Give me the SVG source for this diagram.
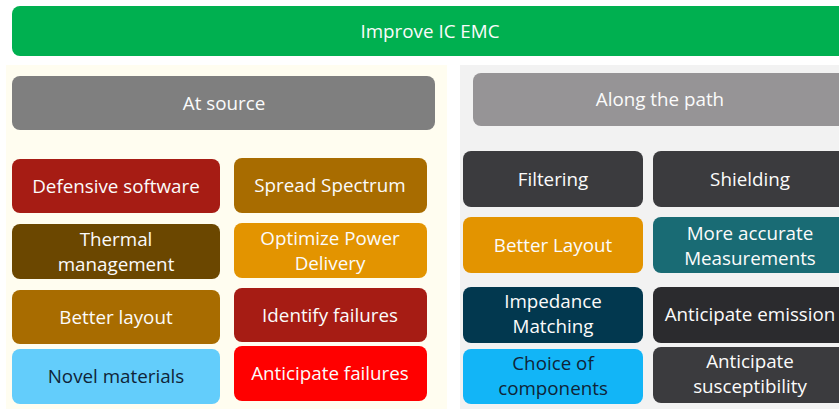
<svg xmlns="http://www.w3.org/2000/svg" width="839" height="409" viewBox="0 0 839 409">
<style>
text{font-family:"Open Sans","Noto Sans",sans-serif;font-size:18.8px;text-anchor:middle;fill:#fbfbfb}
.dk{fill:#0f2438}
</style>
<rect width="839" height="409" fill="#ffffff"/>
<rect x="6" y="65" width="441" height="344" fill="#fffdf0"/>
<rect x="460" y="65" width="379" height="344" fill="#f2f2f2"/>
<g id="root"><rect x="12" y="6" width="836" height="50" rx="8" fill="#00b050"/><text x="430" y="38">Improve IC EMC</text></g>
<g id="at-source"><rect x="12" y="76" width="423" height="54" rx="8" fill="#7f7f7f"/><text x="224" y="110">At source</text></g>
<g id="along-path"><rect x="473" y="73" width="374" height="53" rx="8" fill="#969496"/><text x="660" y="106">Along the path</text></g>
<g id="connectors"></g>
<g id="defensive-software"><rect x="12" y="159" width="208" height="54" rx="8" fill="#a61c14"/><text x="116" y="193">Defensive software</text></g>
<g id="spread-spectrum"><rect x="234" y="158" width="193" height="55" rx="8" fill="#a86c00"/><text x="330" y="192">Spread Spectrum</text></g>
<g id="thermal-management"><rect x="12" y="224" width="208" height="55" rx="8" fill="#6b4700"/><text x="116" y="246">Thermal</text><text x="116" y="271">management</text></g>
<g id="optimize-power"><rect x="234" y="223" width="193" height="55" rx="8" fill="#e39400"/><text x="330" y="245">Optimize Power</text><text x="330" y="270">Delivery</text></g>
<g id="better-layout-src"><rect x="12" y="290" width="208" height="54" rx="8" fill="#a86c00"/><text x="116" y="324">Better layout</text></g>
<g id="identify-failures"><rect x="234" y="288" width="193" height="54" rx="8" fill="#a61c14"/><text x="330" y="322">Identify failures</text></g>
<g id="novel-materials"><rect x="12" y="349" width="208" height="55" rx="8" fill="#63cdfb"/><text class="dk" x="116" y="383">Novel materials</text></g>
<g id="anticipate-failures"><rect x="234" y="346" width="193" height="55" rx="8" fill="#ff0000"/><text x="330" y="380">Anticipate failures</text></g>
<g id="filtering"><rect x="463" y="151" width="180" height="56" rx="8" fill="#3b3b3e"/><text x="553" y="186">Filtering</text></g>
<g id="shielding"><rect x="653" y="151" width="194" height="56" rx="8" fill="#3b3b3e"/><text x="750" y="186">Shielding</text></g>
<g id="better-layout-path"><rect x="463" y="217" width="180" height="56" rx="8" fill="#e39400"/><text x="553" y="252">Better Layout</text></g>
<g id="more-accurate"><rect x="653" y="217" width="194" height="56" rx="8" fill="#196b74"/><text x="750" y="240">More accurate</text><text x="750" y="265">Measurements</text></g>
<g id="impedance-matching"><rect x="463" y="287" width="180" height="56" rx="8" fill="#02384f"/><text x="553" y="308">Impedance</text><text x="553" y="333">Matching</text></g>
<g id="anticipate-emission"><rect x="653" y="287" width="194" height="56" rx="8" fill="#2b2b2e"/><text x="750" y="321">Anticipate emission</text></g>
<g id="choice-components"><rect x="463" y="349" width="180" height="55" rx="8" fill="#12b5f7"/><text class="dk" x="553" y="370">Choice of</text><text class="dk" x="553" y="395">components</text></g>
<g id="anticipate-susceptibility"><rect x="653" y="347" width="194" height="56" rx="8" fill="#3b3b3e"/><text x="750" y="368">Anticipate</text><text x="750" y="393">susceptibility</text></g>
</svg>
